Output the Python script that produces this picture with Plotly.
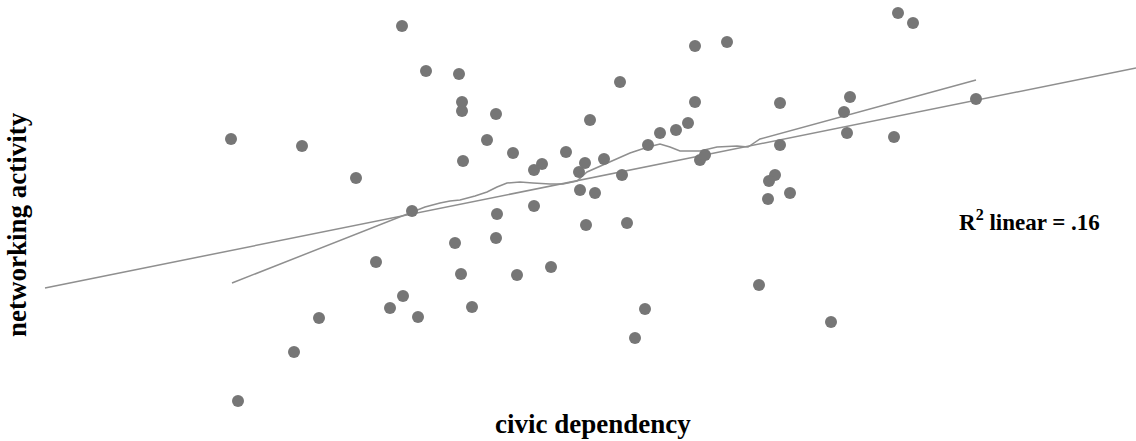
import plotly.graph_objects as go

# Scatter data (civic dependency vs networking activity)
civic_dependency = [2.31, 3.02, 3.56, 4.12, 3.76, 4.03, 3.90, 4.18, 3.19, 2.94, 2.38,
                    4.02, 4.26, 4.59, 4.62, 4.62, 4.96, 6.20, 5.90, 4.87, 4.63, 5.13,
                    5.42, 5.34, 5.66, 5.85, 5.79, 6.04, 6.22, 5.80, 5.95,
                    4.97, 5.34, 5.86, 6.27, 4.55, 4.96, 4.61, 5.17, 5.51, 4.72, 6.35,
                    6.95, 7.80, 6.88, 6.76, 6.60, 6.48, 7.00, 7.05, 7.80, 7.75, 7.69,
                    7.90, 7.68, 7.59, 6.45,
                    8.98, 9.13, 8.50, 8.44, 8.47, 8.94, 9.76, 8.31, 6.95, 7.27]
networking_activity = [3.02, 2.95, 2.63, 2.30, 1.79, 1.45, 1.33, 1.24, 1.23, 0.89, 0.40,
                       4.15, 3.70, 3.67, 3.39, 3.30, 3.27, 3.59, 3.21, 3.01, 2.80, 2.88,
                       2.77, 2.71, 2.89, 2.78, 2.69, 2.82, 2.66, 2.51, 2.48,
                       2.27, 2.35, 2.16, 2.18, 1.98, 2.03, 1.67, 1.66, 1.74, 1.34, 1.03,
                       3.39, 3.38, 3.18, 3.11, 3.08, 2.96, 2.81, 2.86, 2.96, 2.66, 2.60,
                       2.48, 2.42, 1.56, 1.32,
                       4.28, 4.18, 3.44, 3.29, 3.08, 3.04, 3.42, 1.19, 3.95, 3.99]

# Linear fit line (extended)
fit_x = [0.45, 11.36]
fit_y = [1.53, 3.73]

# Local (loess-type) fit line
loess_x = [2.32, 4.12, 4.25, 4.40, 4.50, 4.60, 4.75, 4.87, 4.97, 5.07, 5.20, 5.33,
           5.50, 5.63, 5.77, 5.87, 6.07, 6.30, 6.48, 6.60, 6.70, 6.80, 7.00, 7.17,
           7.37, 7.48, 7.60, 9.76]
loess_y = [1.58, 2.29, 2.34, 2.38, 2.40, 2.41, 2.45, 2.49, 2.54, 2.58, 2.59, 2.58,
           2.57, 2.57, 2.60, 2.69, 2.78, 2.88, 2.94, 2.97, 2.94, 2.90, 2.90, 2.94,
           2.95, 2.94, 3.02, 3.61]

x_title = "civic dependency"
y_title = "networking activity"
r2_label = "R<sup>2</sup> linear = .16"

line_color = "#8f8f8f"
dot_color = "#767676"
font_family = "Liberation Serif, Times New Roman, serif"

fig = go.Figure()
fig.add_trace(go.Scatter(x=fit_x, y=fit_y, mode="lines",
                         line=dict(color=line_color, width=1.5), hoverinfo="skip"))
fig.add_trace(go.Scatter(x=loess_x, y=loess_y, mode="lines",
                         line=dict(color=line_color, width=1.5), hoverinfo="skip"))
fig.add_trace(go.Scatter(x=civic_dependency, y=networking_activity, mode="markers",
                         marker=dict(color=dot_color, size=12, line=dict(width=0))))

fig.update_layout(
    width=1136, height=441,
    margin=dict(l=0, r=0, t=0, b=0),
    paper_bgcolor="white", plot_bgcolor="white",
    showlegend=False,
    xaxis=dict(range=[0, 11.36], visible=False, fixedrange=True),
    yaxis=dict(range=[0, 4.41], visible=False, fixedrange=True),
    font=dict(family=font_family, color="black"),
    annotations=[
        dict(text="<b>" + x_title + "</b>", x=593 / 1136, y=1 - 424 / 441,
             xref="paper", yref="paper", showarrow=False,
             font=dict(size=27, family=font_family), xanchor="center", yanchor="middle"),
        dict(text="<b>" + y_title + "</b>", x=17 / 1136, y=1 - 225 / 441,
             xref="paper", yref="paper", showarrow=False, textangle=-90,
             font=dict(size=27, family=font_family), xanchor="center", yanchor="middle"),
        dict(text="<b>" + r2_label + "</b>", x=957 / 1136, y=1 - 220 / 441,
             xref="paper", yref="paper", showarrow=False,
             font=dict(size=23, family=font_family), xanchor="left", yanchor="middle"),
    ],
)

fig.write_html("out.html", config={"displayModeBar": False})
